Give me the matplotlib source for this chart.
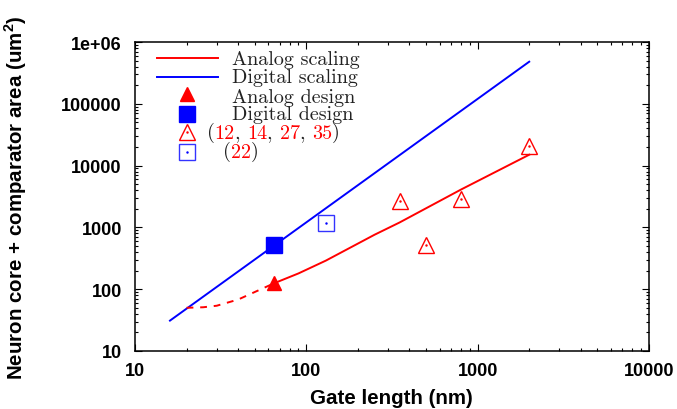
import numpy as np
import matplotlib
matplotlib.use("Agg")
import matplotlib.pyplot as plt
from matplotlib.ticker import LogLocator, FuncFormatter, NullFormatter

plt.rcParams['font.family'] = ['Liberation Sans', 'DejaVu Sans']
plt.rcParams['mathtext.fontset'] = 'custom'
plt.rcParams['mathtext.rm'] = 'Liberation Sans'
plt.rcParams['mathtext.bf'] = 'Liberation Sans:bold'

# 数据 (gate length nm, area um^2)
digital_scaling_x = [16, 2000]
digital_scaling_y = [31, 480000]
analog_scaling_x = [65, 90, 130, 250, 350, 800, 2000]
analog_scaling_y = [125, 180, 290, 760, 1200, 4100, 15000]
analog_extrap_x = [20, 25, 30, 40, 50, 65]
analog_extrap_y = [50, 51, 54, 68, 90, 125]
analog_design_x = [65]
analog_design_y = [125]
digital_design_x = [65]
digital_design_y = [520]
analog_pub_x = [350, 500, 800, 2000]
analog_pub_y = [2650, 520, 2850, 20500]
digital_pub_x = [130]
digital_pub_y = [1200]

legend_labels = ["Analog scaling", "Digital scaling", "Analog design", "Digital design"]
analog_refs = ["12", "14", "27", "35"]
digital_refs = ["22"]

RED = '#ff0000'
BLUE = '#0000ff'
TXT = '#222222'

fig = plt.figure(figsize=(6.77, 4.10), dpi=100)
ax = fig.add_axes([0.1994, 0.1415, 0.7592, 0.7536])

ax.plot(digital_scaling_x, digital_scaling_y, color=BLUE, lw=1.4)
ax.plot(analog_scaling_x, analog_scaling_y, color=RED, lw=1.4)
ax.plot(analog_extrap_x, analog_extrap_y, color=RED, lw=1.4, ls=(0, (3.5, 3.5)))
ax.plot(analog_design_x, analog_design_y, '^', color=RED, ms=10, mec=RED)
ax.plot(digital_design_x, digital_design_y, 's', color=BLUE, ms=11)
ax.plot(analog_pub_x, analog_pub_y, '^', mfc='none', mec=RED, ms=11, mew=1.0)
ax.plot(analog_pub_x, analog_pub_y, '.', color=RED, ms=1.5)
ax.plot(digital_pub_x, digital_pub_y, 's', mfc='none', mec=BLUE, ms=11, mew=1.0, alpha=0.8)
ax.plot(digital_pub_x, digital_pub_y, '.', color=BLUE, ms=1.5)

ax.set_xscale('log')
ax.set_yscale('log')
ax.set_xlim(10, 10000)
ax.set_ylim(10, 1e6)

ax.xaxis.set_minor_locator(LogLocator(subs=np.arange(2, 10), numticks=20))
ax.yaxis.set_minor_locator(LogLocator(subs=np.arange(2, 10), numticks=20))
ax.xaxis.set_minor_formatter(NullFormatter())
ax.yaxis.set_minor_formatter(NullFormatter())
fmt = FuncFormatter(lambda v, _: '1e+06' if v >= 1e6 else '%d' % round(v))
ax.xaxis.set_major_formatter(fmt)
ax.yaxis.set_major_formatter(fmt)

ax.tick_params(which='both', direction='in', top=True, right=True, width=0.8)
ax.tick_params(which='major', length=5, labelsize=13)
ax.tick_params(axis='y', which='major', pad=9.5)
ax.tick_params(axis='x', which='major', pad=8)
ax.tick_params(which='minor', length=2.5)
for lab in ax.get_xticklabels() + ax.get_yticklabels():
    lab.set_fontweight('bold')
for s in ax.spines.values():
    s.set_linewidth(1.1)

ax.set_xlabel('Gate length (nm)', fontsize=14.8, fontweight='bold')
ax.set_ylabel(r'Neuron core + comparator area (um$^{\mathbf{2}}$)', fontsize=14.8, fontweight='bold')
ax.xaxis.set_label_coords(0.498, -0.12)
ax.yaxis.set_label_coords(-0.206, 0.5)

# 图例 (手动绘制)
lfont = dict(fontfamily=['cmr10', 'DejaVu Serif'], fontsize=14.5, transform=ax.transAxes, va='baseline')
ax.plot([0.0434, 0.1609], [0.948, 0.948], color=RED, lw=1.4, transform=ax.transAxes)
ax.plot([0.0434, 0.1609], [0.888, 0.888], color=BLUE, lw=1.4, transform=ax.transAxes)
ax.plot([0.1018], [0.832], '^', color=RED, ms=10, transform=ax.transAxes)
ax.plot([0.1018], [0.767], 's', color=BLUE, ms=11, transform=ax.transAxes)
ax.plot([0.1018], [0.708], '^', mfc='none', mec=RED, ms=11, mew=1.0, transform=ax.transAxes)
ax.plot([0.1018], [0.708], '.', color=RED, ms=1.5, transform=ax.transAxes)
ax.plot([0.1018], [0.645], 's', mfc='none', mec=BLUE, ms=11, mew=1.0, alpha=0.8, transform=ax.transAxes)
ax.plot([0.1018], [0.645], '.', color=BLUE, ms=1.5, transform=ax.transAxes)

for lab, yb in zip(legend_labels, [0.929, 0.870, 0.807, 0.751]):
    ax.text(0.1887, yb, lab, color=TXT, **lfont)


def ref_row(x, y, refs):
    # 括号和逗号为灰色, 编号为红色
    pieces = [('(', TXT)]
    for i, r in enumerate(refs):
        if i > 0:
            pieces.append((', ', TXT))
        pieces.append((r, RED))
    pieces.append((')', TXT))
    t = ax.text(x, y, pieces[0][0], color=pieces[0][1], **lfont)
    for s, c in pieces[1:]:
        t = ax.annotate(s, xy=(1, 0), xycoords=t, va='bottom', color=c,
                        fontfamily=['cmr10', 'DejaVu Serif'], fontsize=14.5)


ref_row(0.1395, 0.692, analog_refs)
ref_row(0.1706, 0.630, digital_refs)

fig.savefig('out.png', dpi=100)
